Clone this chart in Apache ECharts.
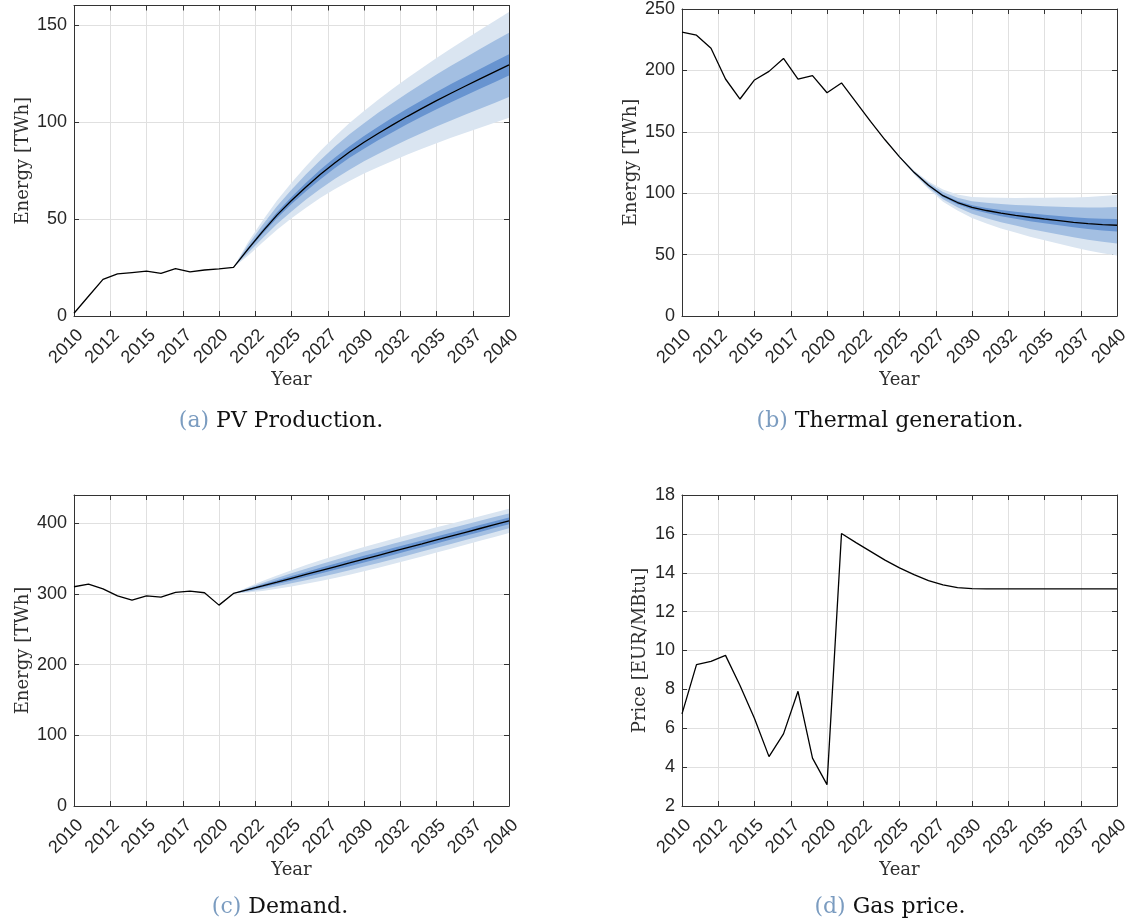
<!DOCTYPE html>
<html>
<head>
<meta charset="utf-8">
<script src="https://cdn.jsdelivr.net/npm/echarts/dist/echarts.min.js"></script>
<style>html,body{margin:0;padding:0;background:#fff}#c{width:1136px;height:923px}</style>
</head>
<body>
<div id="c"></div>
<script>
// ---------- data ----------
const histYears = [2010,2011,2012,2013,2014,2015,2016,2017,2018,2019,2020,2021];
const fcYears = [2021,2022,2023,2024,2025,2026,2027,2028,2029,2030,2031,2032,2033,2034,2035,2036,2037,2038,2039,2040];
const allYears = [2010,2011,2012,2013,2014,2015,2016,2017,2018,2019,2020,2021,2022,2023,2024,2025,2026,2027,2028,2029,2030,2031,2032,2033,2034,2035,2036,2037,2038,2039,2040];
const xTickLabels = ['2010','2012','2015','2017','2020','2022','2025','2027','2030','2032','2035','2037','2040'];

// (a) PV production [TWh]
const pvHist = [1.4,10.2,18.9,21.7,22.4,23.1,22.0,24.4,22.7,23.7,24.3,25.1];
const pvMedian = [25.1,34.5,43.5,52.0,59.5,66.5,73.0,79.0,84.5,89.5,94.2,98.6,102.9,107.0,111.0,114.8,118.5,122.2,125.8,129.4];
const pvOuter = [0,3.5,5.6,7.5,9.1,10.7,12.1,13.5,14.9,16.1,17.4,18.6,19.7,20.8,22.0,23.0,24.1,25.2,26.2,27.2];
const pvMid = [0,2.1,3.4,4.6,5.6,6.5,7.4,8.3,9.1,9.8,10.6,11.3,12.0,12.7,13.4,14.1,14.7,15.4,16.0,16.6];
const pvInner = [0,0.7,1.1,1.5,1.8,2.2,2.5,2.7,3.0,3.3,3.5,3.8,4.0,4.2,4.4,4.7,4.9,5.1,5.3,5.5];

// (b) Thermal generation [TWh]
const thHist = [231.1,228.7,218.0,193.0,176.7,192.2,199.2,209.7,192.8,195.7,181.8,189.8];
const thMedian = [189.8,174.1,158.5,143.5,129.6,117.0,106.5,98.0,92.4,88.4,85.9,83.8,82.0,80.4,79.0,77.7,76.3,75.2,74.4,73.9];
const thOuter = [0,0,0,0,0.5,1.5,3.0,5.0,6.5,8.5,10.5,12.5,14.0,15.8,17.3,18.8,20.3,21.8,23.3,24.7];
const thMid = [0,0,0,0,0.3,0.9,1.8,3.0,3.9,5.1,6.3,7.5,8.4,9.5,10.4,11.3,12.2,13.1,14.0,14.8];
const thInner = [0,0,0,0,0.1,0.3,0.6,1.0,1.3,1.7,2.1,2.5,2.8,3.2,3.5,3.8,4.1,4.4,4.7,5.0];

// (c) Demand [TWh]
const dmHist = [310.2,314.0,307.3,297.4,291.3,297.4,295.5,302.1,304.0,301.7,284.2,300.7];
const dmMedian = [300.7,306.0,311.3,316.7,322.2,327.6,333.0,338.4,343.8,349.3,354.7,360.1,365.5,370.9,376.4,381.8,387.2,392.6,398.0,403.4];
const dmOuter = [0,4.0,7.0,9.5,11.5,13.2,14.6,15.7,16.6,17.2,17.5,17.7,17.8,17.8,17.8,17.7,17.6,17.5,17.3,17.1];
const dmMid = [0,2.5,4.3,5.9,7.1,8.2,9.0,9.7,10.3,10.6,10.8,11.0,11.0,11.0,11.0,11.0,10.9,10.8,10.7,10.6];
const dmInner = [0,1.1,1.9,2.6,3.2,3.6,4.0,4.3,4.5,4.7,4.8,4.9,4.9,4.9,4.9,4.9,4.8,4.8,4.7,4.7];

// (d) Gas price [EUR/MBtu]
const gasPrice = [6.74,9.27,9.44,9.75,8.2,6.5,4.54,5.71,7.9,4.46,3.1,16.02,15.55,15.1,14.65,14.25,13.9,13.6,13.38,13.23,13.18,13.17,13.17,13.17,13.17,13.17,13.17,13.17,13.17,13.17,13.17];

const captionTags = ['(a)','(b)','(c)','(d)'];
const captionTexts = ['PV Production.','Thermal generation.','Demand.','Gas price.'];

// ---------- styles / layout ----------
const AX = '#333333';
const GRIDC = '#e0e0e0';
const LIGHT = '#dae5f1', MIDC = '#a3bfe2', DARK = '#6894d0';
const grids = [
  {left:74, top:5.5, width:435, height:310.5},
  {left:682, top:5.5, width:435, height:310.5},
  {left:74, top:495, width:435, height:311},
  {left:682, top:495, width:435, height:311}
];
const yCfg = [
  {min:0,max:160,interval:50,name:'Energy [TWh]',gap:42},
  {min:0,max:250,interval:50,name:'Energy [TWh]',gap:42},
  {min:0,max:440,interval:100,name:'Energy [TWh]',gap:42},
  {min:2,max:18,interval:2,name:'Price [EUR/MBtu]',gap:33}
];
const capPos = [[281,421],[890,421],[280,907],[890,907]];

const xAxis = [], yAxis = [], series = [];
grids.forEach((g, gi) => {
  xAxis.push({
    gridIndex: gi, type:'value', min:2010, max:2040, interval:2.5, position:'bottom',
    name:'Year', nameLocation:'middle', nameGap:55,
    nameTextStyle:{fontFamily:'DejaVu Serif', fontSize:18, color:'#303030'},
    axisLine:{show:true, onZero:false, lineStyle:{color:AX, width:1}},
    axisTick:{show:true, inside:true, length:5, lineStyle:{color:AX}},
    axisLabel:{rotate:45, margin:10, verticalAlign:'top', fontFamily:'Liberation Sans', fontSize:18, color:'#262626',
      formatter:(v, i) => xTickLabels[i]},
    splitLine:{show:true, lineStyle:{color:GRIDC, width:1}}
  });
  xAxis.push({
    gridIndex: gi, type:'value', min:2010, max:2040, interval:2.5, position:'top',
    axisLine:{show:true, onZero:false, lineStyle:{color:AX, width:1}},
    axisTick:{show:true, inside:true, length:5, lineStyle:{color:AX}},
    axisLabel:{show:false}, splitLine:{show:false}
  });
  const c = yCfg[gi];
  yAxis.push({
    gridIndex: gi, type:'value', min:c.min, max:c.max, interval:c.interval, position:'left',
    name:c.name, nameLocation:'middle', nameGap:c.gap,
    nameTextStyle:{fontFamily:'DejaVu Serif', fontSize:18, color:'#303030'},
    axisLine:{show:true, onZero:false, lineStyle:{color:AX, width:1}},
    axisTick:{show:true, inside:true, length:5, lineStyle:{color:AX}},
    axisLabel:{margin:7, fontFamily:'Liberation Sans', fontSize:18, color:'#262626', showMaxLabel: (c.max % c.interval === 0)},
    splitLine:{show:true, lineStyle:{color:GRIDC, width:1}}
  });
  yAxis.push({
    gridIndex: gi, type:'value', min:c.min, max:c.max, interval:c.interval, position:'right',
    axisLine:{show:true, onZero:false, lineStyle:{color:AX, width:1}},
    axisTick:{show:true, inside:true, length:5, lineStyle:{color:AX}},
    axisLabel:{show:false}, splitLine:{show:false}
  });
});

function band(gi, med, spr, color, z) {
  return {
    type:'custom', xAxisIndex: gi*2, yAxisIndex: gi*2, silent:true, z:z,
    data:[[fcYears[0], med[0]]],
    encode:{x:0, y:1},
    renderItem:(params, api) => {
      const pts = [];
      for (let i = 0; i < fcYears.length; i++) pts.push(api.coord([fcYears[i], med[i] + spr[i]]));
      for (let i = fcYears.length - 1; i >= 0; i--) pts.push(api.coord([fcYears[i], med[i] - spr[i]]));
      return {type:'polygon', shape:{points:pts}, style:{fill:color, stroke:null}};
    }
  };
}
function pairs(xs, ys) { return xs.map((x, i) => [x, ys[i]]); }
function line(gi, data) {
  return {type:'line', xAxisIndex:gi*2, yAxisIndex:gi*2, data:data, showSymbol:false, symbol:'none',
    lineStyle:{color:'#000', width:1.3}, itemStyle:{color:'#000'}, z:10, silent:true, animation:false};
}

const panels = [
  [pvHist, pvMedian, pvOuter, pvMid, pvInner],
  [thHist, thMedian, thOuter, thMid, thInner],
  [dmHist, dmMedian, dmOuter, dmMid, dmInner]
];
panels.forEach((p, gi) => {
  series.push(band(gi, p[1], p[2], LIGHT, 2));
  series.push(band(gi, p[1], p[3], MIDC, 3));
  series.push(band(gi, p[1], p[4], DARK, 4));
  series.push(line(gi, pairs(histYears, p[0]).concat(pairs(fcYears, p[1]).slice(1))));
});
series.push(line(3, pairs(allYears, gasPrice)));

const graphic = captionTags.map((t, i) => ({
  type:'text', x:capPos[i][0], y:capPos[i][1], silent:true,
  style:{
    text:'{t|' + t + '} ' + captionTexts[i],
    font:'22px "DejaVu Serif"', fill:'#111', align:'center', verticalAlign:'middle',
    rich:{t:{fill:'#7b9cc0', fontFamily:'DejaVu Serif', fontSize:22}}
  }
}));

const chart = echarts.init(document.getElementById('c'), null, {renderer:'canvas'});
chart.setOption({
  animation:false,
  backgroundColor:'#ffffff',
  grid: grids.map(g => Object.assign({containLabel:false}, g)),
  xAxis: xAxis, yAxis: yAxis, series: series, graphic: graphic
});
</script>
</body>
</html>
